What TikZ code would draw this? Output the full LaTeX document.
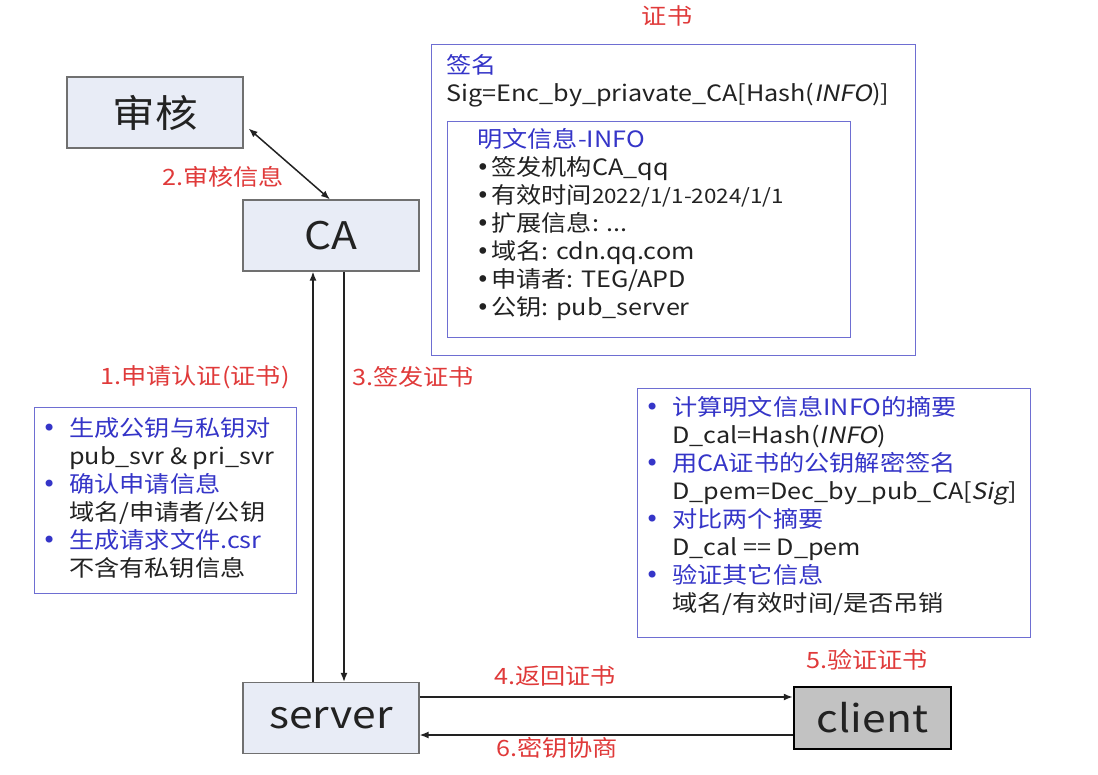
\documentclass[tikz,border=0pt]{standalone}
\usepackage{fontspec}
\setmainfont{Noto Sans CJK SC}[FakeStretch=1.12,ItalicFont={Noto Sans CJK SC},ItalicFeatures={FakeSlant=0.2}]
\newfontfamily\djv{DejaVu Sans}
\usetikzlibrary{arrows.meta}
\definecolor{boxfill}{HTML}{E8ECF6}
\definecolor{boxline}{HTML}{707070}
\definecolor{tblue}{HTML}{3535C8}
\definecolor{bline}{HTML}{6E6ED2}
\definecolor{tred}{HTML}{E03A3A}
\definecolor{tblack}{HTML}{222222}
\definecolor{clientfill}{HTML}{C2C2C2}
\newcommand\bul[1]{\makebox[25pt][l]{\hspace*{-2pt}\textcolor{tblue}{\djv\fontsize{24}{24}\selectfont •}}\textcolor{tblue}{#1}}
\newcommand\ind{\hspace*{25pt}}
\newcommand\dotb{\makebox[14pt][l]{\hspace*{-1pt}\djv\fontsize{23}{23}\selectfont •}}
\begin{document}
\begin{tikzpicture}[x=1pt,y=-1pt,
  entity/.style={draw=boxline, line width=1.2pt, fill=boxfill, minimum width=176, minimum height=71, inner sep=0, font=\fontsize{38}{40}\selectfont, text=tblack},
  clientbox/.style={draw=black, line width=2.5pt, fill=clientfill, minimum width=157, minimum height=62, inner sep=0, font=\fontsize{38}{40}\selectfont, text=tblack},
  infobox/.style={draw=bline, line width=1.3pt, inner sep=0, anchor=north west},
  lbl/.style={text=tred, font=\fontsize{22.5}{24}\selectfont, inner sep=0},
  txt/.style={anchor=north west, align=left, inner sep=0, text=tblack, font=\fontsize{22.5}{28}\selectfont},
  arr/.style={line width=1.5pt, draw=tblack, -{Latex[length=9pt,width=7pt]}},
  darr/.style={line width=1.5pt, draw=tblack, {Latex[length=9pt,width=7pt]}-{Latex[length=9pt,width=7pt]}}
]
\useasboundingbox (0,0) rectangle (1098,774);
\fill[white] (0,0) rectangle (1098,774);

% main entities
\node[entity] (audit) at (155,112.5) {审核};
\node[entity] (ca) at (331,235.5) {CA};
\node[entity] (server) at (331,718) {server};
\node[clientbox] (client) at (872.5,718) {client};

% connectors
\draw[darr] ([xshift=5pt,yshift=-16pt]audit.east) -- ([xshift=-1pt]ca.north);
\draw[arr] ([xshift=-18pt]server.north) -- ([xshift=-18pt]ca.south);
\draw[arr] ([xshift=13pt]ca.south) -- ([xshift=13pt]server.north);
\draw[arr] ([yshift=21pt]server.east) -- ([yshift=21pt]client.west);
\draw[arr] ([yshift=-17pt]client.west) -- ([yshift=-17pt]server.east);

% labels
\node[lbl] (l2) at (223,177) {2.审核信息};
\node[lbl] (l1) at (195,377) {1.申请认证(证书)};
\node[lbl] (l3) at (413,377) {3.签发证书};
\node[lbl] (l4) at (555,676) {4.返回证书};
\node[lbl] (l6) at (557,748) {6.密钥协商};
\node[lbl] (l5) at (867,660) {5.验证证书};
\node[lbl] (lcert) at (667,16) {证书};

% request box
\node[infobox, minimum width=262, minimum height=186] (reqbox) at (34,407) {};
\node[txt] (reqtext) at (44,417) {%
\bul{生成公钥与私钥对}\\
\ind pub\_svr \& pri\_svr\\
\bul{确认申请信息}\\
\ind 域名/申请者/公钥\\
\bul{生成请求文件.csr}\\
\ind 不含有私钥信息};

% certificate
\node[infobox, minimum width=484, minimum height=311] (cert) at (431,44) {};
\node[txt] (sigtext) at (446,54) {\textcolor{tblue}{签名}\\
Sig=Enc\_by\_priavate\_CA[Hash(\textit{INFO})]};
\node[infobox, minimum width=403, minimum height=216] (info) at (447,121) {};
\node[txt] (infotext) at (477,128) {\textcolor{tblue}{明文信息-INFO}\\
\dotb 签发机构CA\_qq\\
\dotb 有效时间{\fontsize{20}{28}\selectfont 2022/1/1-2024/1/1}\\
\dotb 扩展信息: ...\\
\dotb 域名: cdn.qq.com\\
\dotb 申请者: TEG/APD\\
\dotb 公钥: pub\_server};

% verify box
\node[infobox, minimum width=393, minimum height=249] (verify) at (637,388) {};
\node[txt] (verifytext) at (647,396) {%
\bul{计算明文信息INFO的摘要}\\
\ind D\_cal=Hash(\textit{INFO})\\
\bul{用CA证书的公钥解密签名}\\
\ind D\_pem=Dec\_by\_pub\_CA[\textit{Sig}]\\
\bul{对比两个摘要}\\
\ind D\_cal == D\_pem\\
\bul{验证其它信息}\\
\ind 域名/有效时间/是否吊销};
\end{tikzpicture}
\end{document}
